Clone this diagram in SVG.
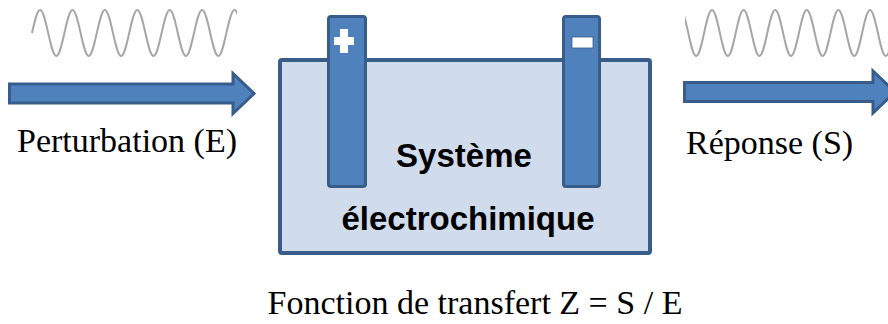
<svg xmlns="http://www.w3.org/2000/svg" width="888" height="324" viewBox="0 0 888 324">
  <style>
    .wave { fill: none; stroke: #A6A6A6; stroke-width: 2; vector-effect: non-scaling-stroke; }
    .arrow { fill: #4F81BD; stroke: #385D8A; stroke-width: 3; stroke-linejoin: miter; }
    .electrode { fill: #4F81BD; stroke: #385D8A; stroke-width: 3; }
    .box { fill: #D0DCEC; stroke: #385D8A; stroke-width: 4; }
    .sign { fill: #FFFFFF; }
    .label { font-family: "Liberation Serif", "Times New Roman", serif; font-size: 34px; fill: #000000; }
    .sys { font-family: "Liberation Sans", Arial, sans-serif; font-weight: bold; font-size: 33px; fill: #000000; text-anchor: middle; }
  </style>
  <defs>
    <clipPath id="clipIn" clipPathUnits="userSpaceOnUse"><rect x="30" y="0" width="207" height="70"/></clipPath>
    <clipPath id="clipOut" clipPathUnits="userSpaceOnUse"><rect x="685" y="0" width="210" height="70"/></clipPath>
  </defs>

  <g id="wave-in" clip-path="url(#clipIn)">
    <path class="wave" transform="translate(32,33) scale(8.1,-23)" d="M0,0 C0.326,0.512 0.638,1 1,1 S1.674,0.512 2,0 S2.638,-1 3,-1 S3.674,-0.512 4,0 S4.638,1 5,1 S5.674,0.512 6,0 S6.638,-1 7,-1 S7.674,-0.512 8,0 S8.638,1 9,1 S9.674,0.512 10,0 S10.638,-1 11,-1 S11.674,-0.512 12,0 S12.638,1 13,1 S13.674,0.512 14,0 S14.638,-1 15,-1 S15.674,-0.512 16,0 S16.638,1 17,1 S17.674,0.512 18,0 S18.638,-1 19,-1 S19.674,-0.512 20,0 S20.638,1 21,1 S21.674,0.512 22,0 S22.638,-1 23,-1 S23.674,-0.512 24,0 S24.638,1 25,1 S25.674,0.512 26,0"/>
  </g>

  <g id="wave-out" clip-path="url(#clipOut)">
    <path class="wave" transform="translate(672.5,33) scale(7.9,-23)" d="M0,0 C0.326,0.512 0.638,1 1,1 S1.674,0.512 2,0 S2.638,-1 3,-1 S3.674,-0.512 4,0 S4.638,1 5,1 S5.674,0.512 6,0 S6.638,-1 7,-1 S7.674,-0.512 8,0 S8.638,1 9,1 S9.674,0.512 10,0 S10.638,-1 11,-1 S11.674,-0.512 12,0 S12.638,1 13,1 S13.674,0.512 14,0 S14.638,-1 15,-1 S15.674,-0.512 16,0 S16.638,1 17,1 S17.674,0.512 18,0 S18.638,-1 19,-1 S19.674,-0.512 20,0 S20.638,1 21,1 S21.674,0.512 22,0 S22.638,-1 23,-1 S23.674,-0.512 24,0 S24.638,1 25,1 S25.674,0.512 26,0 S26.638,-1 27,-1 S27.674,-0.512 28,0"/>
  </g>

  <g id="connectors">
    <polygon id="arrow-in" class="arrow" points="9.5,84 233,84 233,73.5 254,93.5 233,113.5 233,103 9.5,103"/>
    <polygon id="arrow-out" class="arrow" points="684.5,82.5 873,82.5 873,71 895,92 873,113 873,101.5 684.5,101.5"/>
  </g>

  <g id="label-in">
    <text class="label" x="17" y="152">Perturbation (E)</text>
  </g>

  <g id="label-out">
    <text class="label" x="686" y="154">Réponse (S)</text>
  </g>

  <g id="system">
    <rect class="box" x="280" y="60" width="370" height="193" rx="2"/>
    <g id="electrode-plus">
      <rect class="electrode" x="328.5" y="16.5" width="37" height="170" rx="2.5"/>
      <rect class="sign" x="334" y="37" width="20" height="8"/>
      <rect class="sign" x="340" y="29" width="8" height="24"/>
    </g>
    <g id="electrode-minus">
      <rect class="electrode" x="563.5" y="16.5" width="36" height="170" rx="2.5"/>
      <rect class="sign" x="572" y="37" width="21" height="11" stroke="#385D8A" stroke-width="0.8"/>
    </g>
    <text class="sys" x="464" y="167">Système</text>
    <text class="sys" x="468" y="230">électrochimique</text>
  </g>

  <g id="caption">
    <text class="label" x="475" y="314" text-anchor="middle">Fonction de transfert Z = S / E</text>
  </g>
</svg>
